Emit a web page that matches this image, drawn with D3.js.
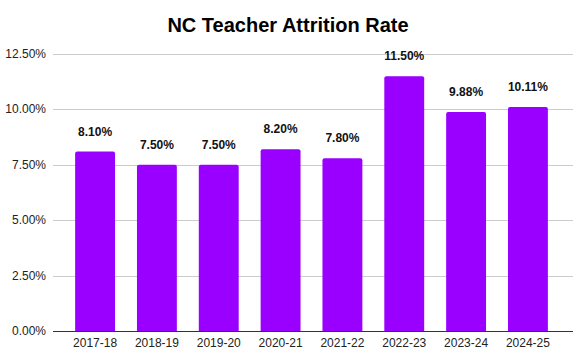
<html>
<script src="https://d3js.org/d3.v7.min.js"></script>
<style>
    body { margin: 0; background: #fff; }
    svg { display: block; font-family: "Liberation Sans", Arial, sans-serif; }
    .grid line { stroke: #cccccc; stroke-width: 1px; }
    .ylab text { fill: #222; font-size: 12px; text-anchor: end; }
    .xlab text { fill: #222; font-size: 12px; text-anchor: middle; }
    .bar { fill: #9900ff; }
    .val { fill: #111; font-size: 12px; font-weight: bold; text-anchor: middle; }
    .title { font-size: 20px; font-weight: bold; text-anchor: middle; fill: #000; }
</style>
<svg width=580 height=358></svg>
<script>
    let years = ['2017-18', '2018-19', '2019-20', '2020-21', '2021-22', '2022-23', '2023-24', '2024-25'];
    let rates = [8.10, 7.50, 7.50, 8.20, 7.80, 11.50, 9.88, 10.11];
    let yTicks = [0, 2.5, 5, 7.5, 10, 12.5];

    let svg = d3.select('svg');
    let plotLeft = 53, plotRight = 573, plotTop = 54, plotBottom = 331;

    let x = d3.scaleBand()
        .domain(years)
        .range([64, 559])
        .paddingInner(0.355)
        .paddingOuter(0.18);

    let y = d3.scaleLinear()
        .domain([0, 12.5])
        .range([plotBottom, plotTop]);

    svg.append('text')
        .attr('class', 'title')
        .attr('x', 288)
        .attr('y', 32)
        .text('NC Teacher Attrition Rate');

    let grid = svg.append('g').attr('class', 'grid');
    grid.selectAll('line')
        .data(yTicks.filter(d => d > 0))
        .enter()
        .append('line')
        .attr('x1', plotLeft)
        .attr('x2', plotRight)
        .attr('y1', d => Math.round(y(d)) + 0.5)
        .attr('y2', d => Math.round(y(d)) + 0.5);

    svg.append('g').attr('class', 'ylab')
        .selectAll('text')
        .data(yTicks)
        .enter()
        .append('text')
        .attr('x', 46)
        .attr('y', d => y(d) + 4)
        .text(d => d.toFixed(2) + '%');

    let barW = x.bandwidth();
    svg.selectAll('.bar')
        .data(rates)
        .enter()
        .append('path')
        .attr('class', 'bar')
        .attr('d', (d, i) => {
            let x0 = x(years[i]), y0 = y(d), r = 2;
            return 'M' + x0 + ',' + plotBottom +
                'V' + (y0 + r) +
                'Q' + x0 + ',' + y0 + ' ' + (x0 + r) + ',' + y0 +
                'H' + (x0 + barW - r) +
                'Q' + (x0 + barW) + ',' + y0 + ' ' + (x0 + barW) + ',' + (y0 + r) +
                'V' + plotBottom + 'Z';
        });

    svg.selectAll('.val')
        .data(rates)
        .enter()
        .append('text')
        .attr('class', 'val')
        .attr('x', (d, i) => x(years[i]) + barW / 2)
        .attr('y', d => y(d) - 16)
        .text(d => d.toFixed(2) + '%');

    svg.append('line')
        .attr('x1', plotLeft)
        .attr('x2', plotRight)
        .attr('y1', plotBottom + 0.5)
        .attr('y2', plotBottom + 0.5)
        .attr('stroke', '#333')
        .attr('stroke-width', 1);

    svg.append('g').attr('class', 'xlab')
        .selectAll('text')
        .data(years)
        .enter()
        .append('text')
        .attr('x', d => x(d) + barW / 2)
        .attr('y', 347)
        .text(d => d);
</script>
</html>
